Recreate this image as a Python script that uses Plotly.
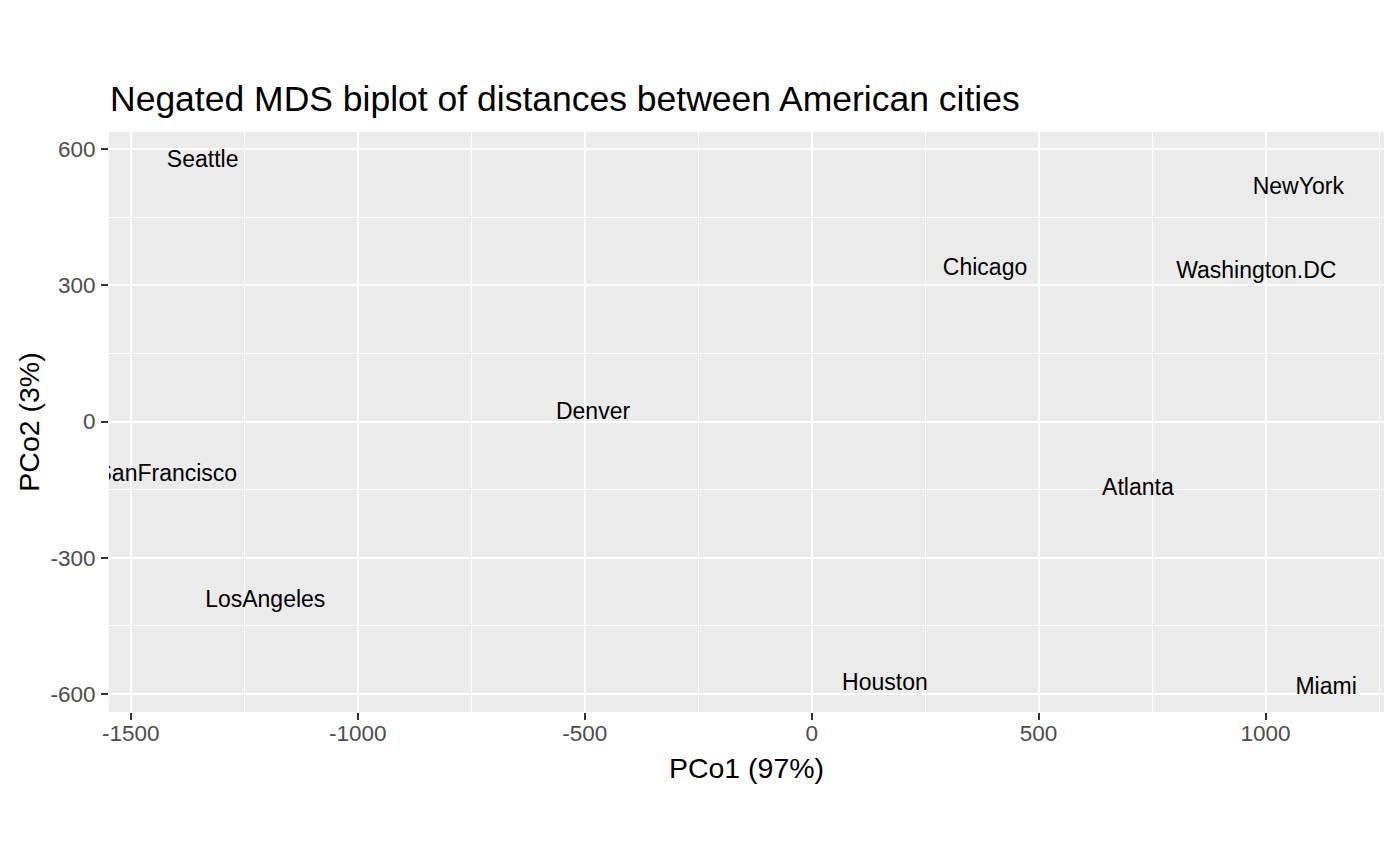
import plotly.graph_objects as go

cities = ["Atlanta", "Chicago", "Denver", "Houston", "LosAngeles", "Miami",
          "NewYork", "SanFrancisco", "Seattle", "Washington.DC"]
pco1 = [718.76, 382.06, -481.60, 161.47, -1203.74, 1133.53,
        1072.24, -1420.60, -1341.72, 979.63]
pco2 = [-149, 335, 19, -579, -396, -588,
        513, -118, 573, 329]

x_ticks = [-1500, -1000, -500, 0, 500, 1000]
y_ticks = [-600, -300, 0, 300, 600]
x_limits = [-1548, 1261]
y_limits = [-640, 638]

title_text = "Negated MDS biplot of distances between American cities"
x_title = "PCo1 (97%)"
y_title = "PCo2 (3%)"

FONT = "Liberation Sans, Arial, Helvetica, sans-serif"

fig = go.Figure()
fig.add_trace(go.Scatter(
    x=pco1, y=pco2, text=cities, mode="text",
    textposition="middle center",
    textfont=dict(family=FONT, size=23, color="black"),
    cliponaxis=True, hoverinfo="text", showlegend=False,
))

axis_common = dict(
    showline=False, zeroline=False,
    showgrid=True, gridcolor="white", gridwidth=2.2,
    ticks="outside", ticklen=7, tickwidth=2, tickcolor="#333333",
    tickfont=dict(family=FONT, size=22.5, color="#4D4D4D"),
    title_font=dict(family=FONT, size=28.5, color="black"),
)

fig.update_xaxes(
    **axis_common, range=x_limits,
    tickvals=x_ticks, ticktext=[str(v) for v in x_ticks],
    minor=dict(showgrid=True, gridcolor="white", gridwidth=1.1, tick0=-1250, dtick=500),
    title_text=x_title, title_standoff=13, ticklabelstandoff=-6,
)
fig.update_yaxes(
    **axis_common, range=y_limits,
    tickvals=y_ticks, ticktext=[str(v) for v in y_ticks],
    minor=dict(showgrid=True, gridcolor="white", gridwidth=1.1, tick0=-450, dtick=300),
    title_text=y_title, title_standoff=2, ticklabelstandoff=1,
)

fig.update_layout(
    width=1400, height=866,
    margin=dict(l=109, r=16, t=132, b=154, autoexpand=False),
    paper_bgcolor="white", plot_bgcolor="#EBEBEB",
    title=dict(text=title_text, font=dict(family=FONT, size=35.5, color="black"),
               xref="container", x=110 / 1400, xanchor="left",
               yref="container", y=1 - 99 / 866, yanchor="middle"),
)

fig.write_html("out.html", config={"displayModeBar": False},
               post_script="document.body.style.margin='0px';")
